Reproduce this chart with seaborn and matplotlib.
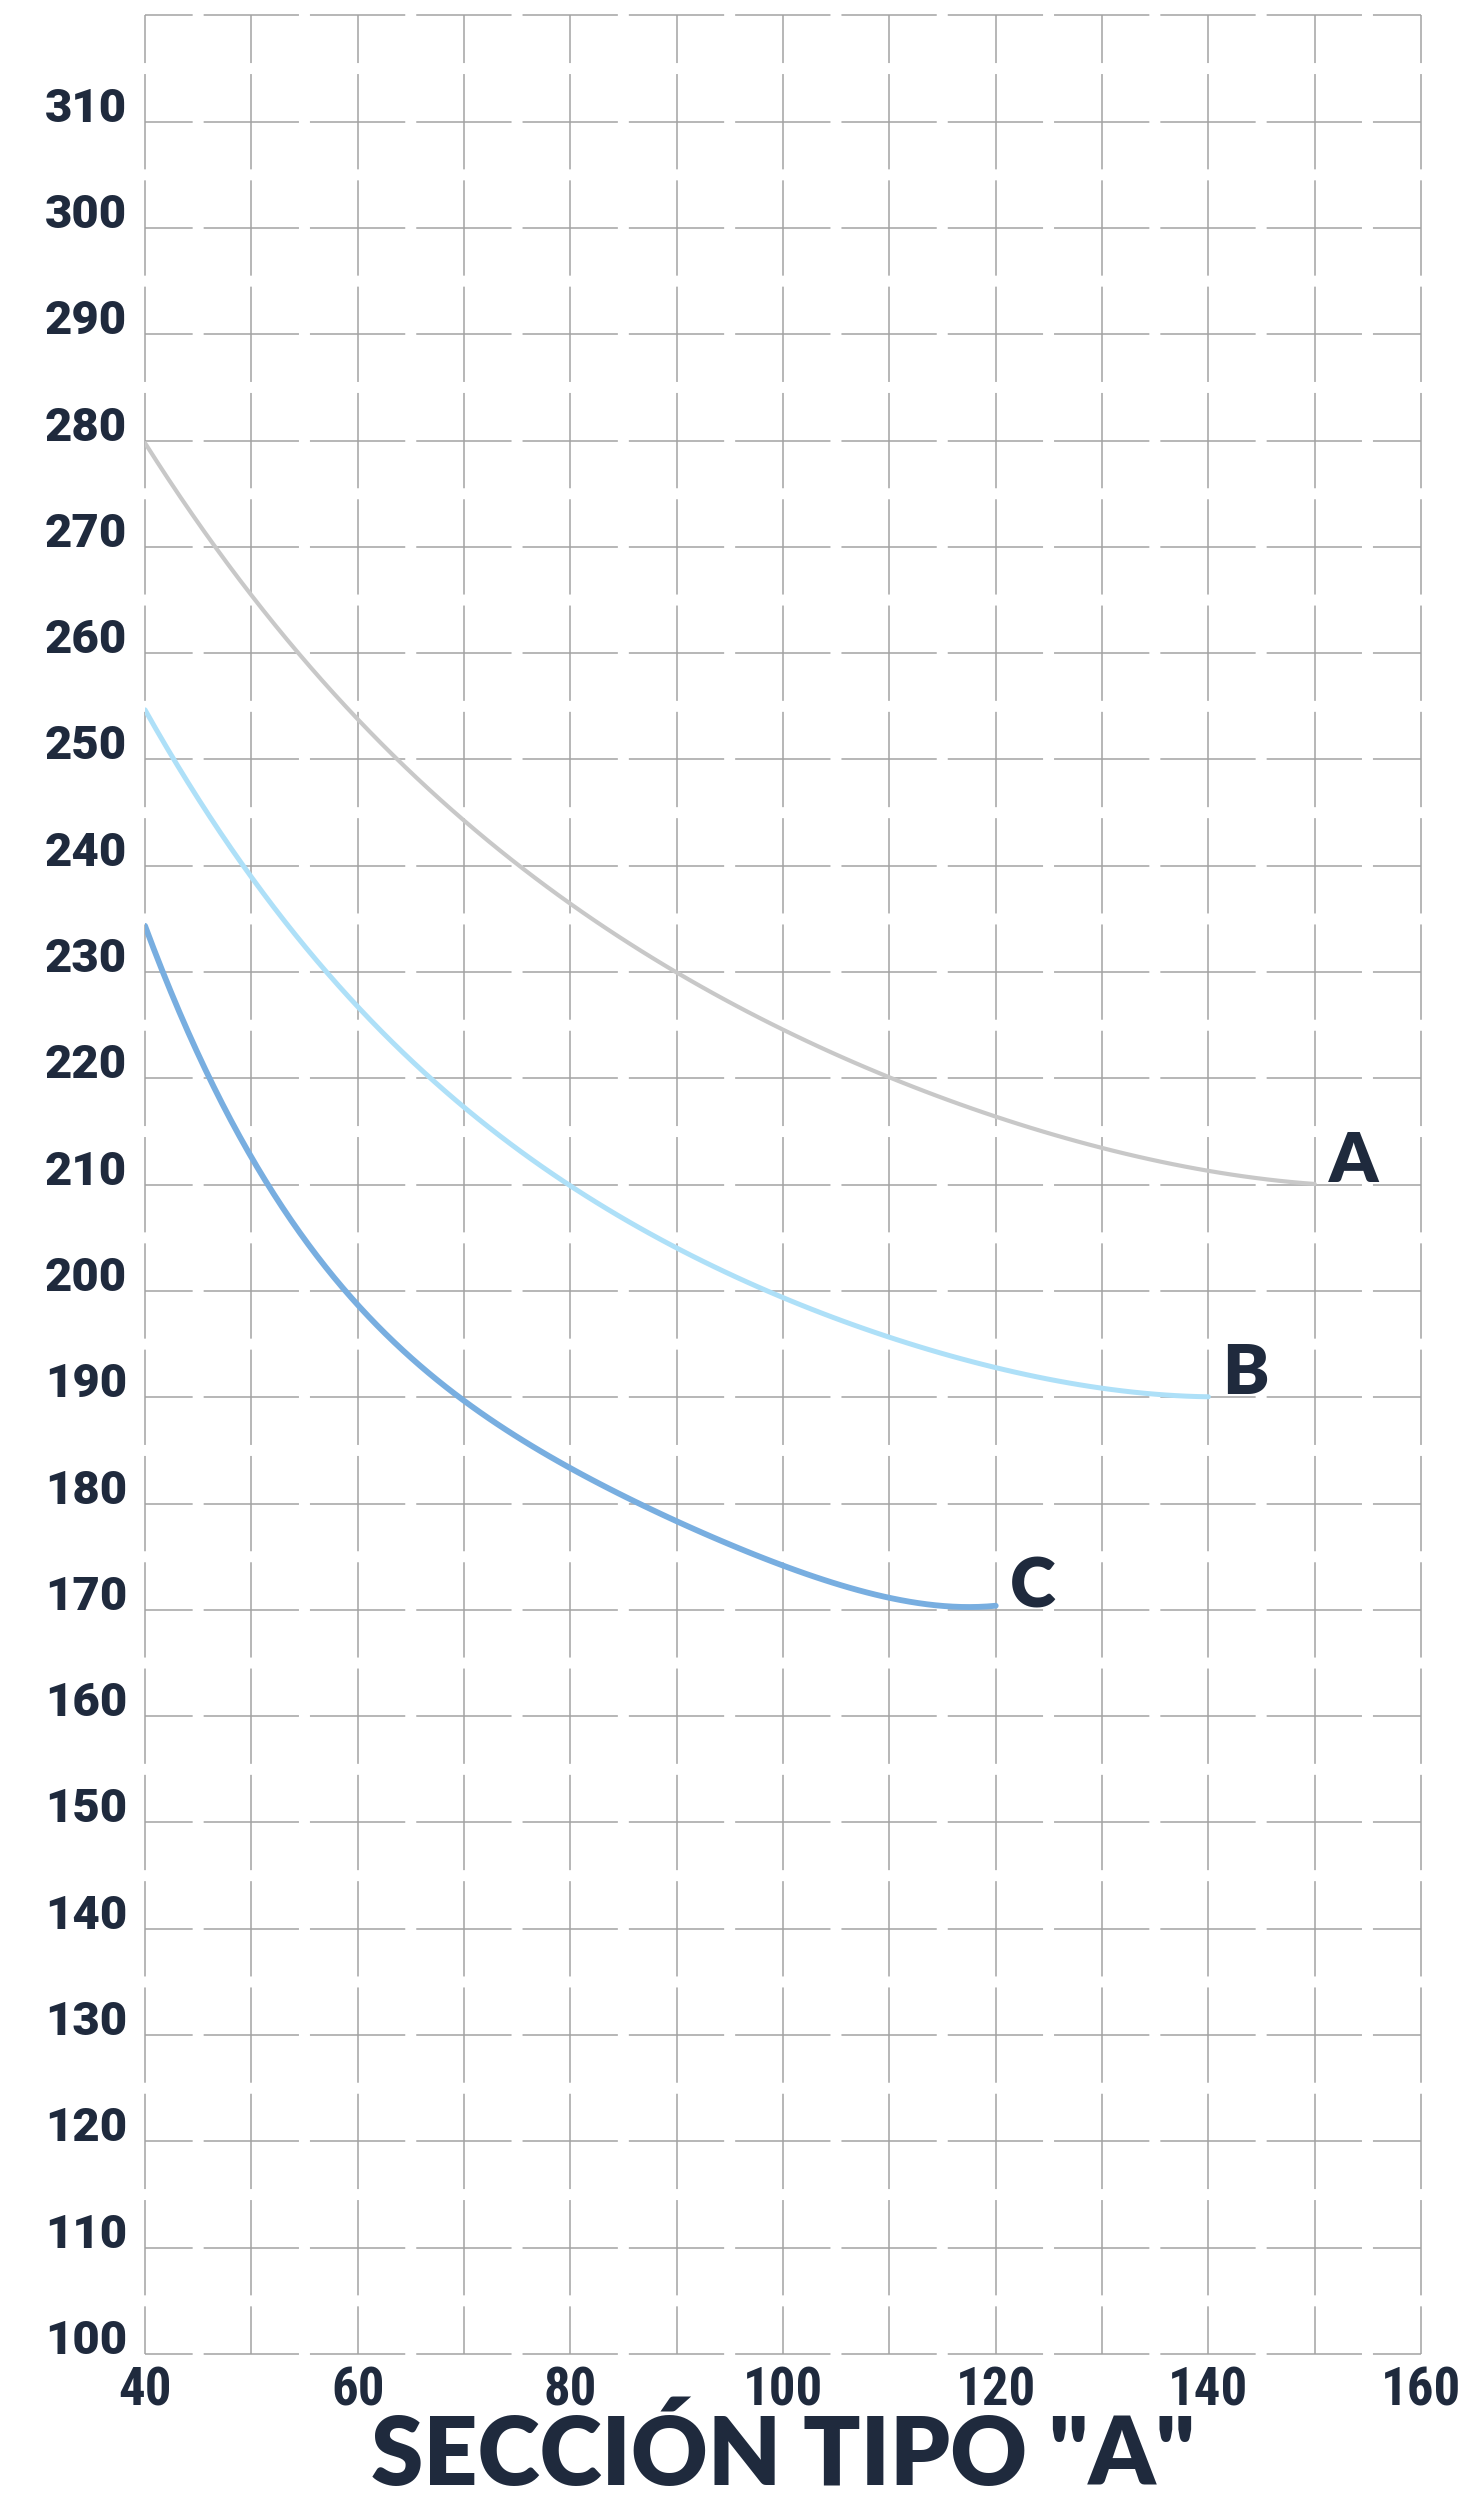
import pandas as pd
import matplotlib
matplotlib.use('Agg')
import matplotlib.pyplot as plt
import seaborn as sns

# curve values
x_a = [40, 46.4, 50, 54.2, 60, 64, 70, 75, 80, 90, 100, 110, 120, 130, 140, 150]
y_a = [280, 270, 265.4, 260, 254.0, 250, 244.3, 240, 236.5, 230, 224.5, 220, 216.4, 213.5, 211.4, 210]

x_b = [40, 42.5, 49.2, 57, 60, 66.8, 70, 80, 90, 100, 110, 120, 130, 140]
y_b = [255, 250, 240, 230, 226.8, 220, 217.6, 209.8, 204.1, 199.2, 195.6, 192.9, 190.9, 190]

x_c = [40, 41.7, 45.6, 50, 51.4, 59.6, 70, 80, 90, 100, 105, 110, 115, 120]
y_c = [235, 230, 220, 212.3, 210, 200, 190.2, 183.0, 177.8, 174.0, 172.6, 171.5, 170.7, 170]

curve_names = ['A', 'B', 'C']
x_ticks = list(range(40, 161, 20))
y_ticks = list(range(100, 321, 10))
title = 'SECCIÓN TIPO "A"'

df = pd.concat([
    pd.DataFrame({'x': x_a, 'y': y_a, 'curva': 'A'}),
    pd.DataFrame({'x': x_b, 'y': y_b, 'curva': 'B'}),
    pd.DataFrame({'x': x_c, 'y': y_c, 'curva': 'C'}),
])

sns.set_style('white')
plt.rcParams['lines.scale_dashes'] = False

navy = '#1f2a3d'
palette = {'A': '#c8c8c8', 'B': '#aee0f8', 'C': '#78aee0'}
widths = {'A': 3.0, 'B': 3.6, 'C': 4.2}

fig = plt.figure(figsize=(14.62, 24.96), dpi=100)
ax = fig.add_axes([0.0992, 0.0569, 0.9720 - 0.0992, 0.93694])

for name in curve_names:
    sub = df[df['curva'] == name]
    # smooth curve through the read points (polynomial fit by seaborn)
    sns.regplot(data=sub, x='x', y='y', order=4, ci=None, scatter=False,
                truncate=True, ax=ax,
                line_kws={'color': palette[name], 'linewidth': widths[name],
                          'solid_capstyle': 'round', 'zorder': 3})
    ax.annotate(name, (sub['x'].iloc[-1], sub['y'].iloc[-1]), xytext=(10, 2),
                textcoords='offset points', ha='left', va='baseline',
                fontsize=50, fontweight='heavy', family='Lato', color=navy)

ax.set_xlim(40, 160)
ax.set_ylim(100, 320)
ax.set_xticks(x_ticks)
ax.set_xticks(list(range(50, 160, 20)), minor=True)
ax.set_yticks(y_ticks)
ax.set_yticklabels([str(v) if v < 320 else '' for v in y_ticks])
ax.set_xlabel('')
ax.set_ylabel('')

# dashed grid with small gaps midway between lines (period = one cell)
cell_pt = 106.3 * 72 / 100
gap_pt = 11 * 72 / 100
dash = (cell_pt / 2 - gap_pt / 2, (cell_pt - gap_pt, gap_pt))
ax.grid(True, which='both', color='#a3a3a3', linewidth=1.1, linestyle=dash)
for gl in ax.get_xgridlines() + ax.get_ygridlines():
    gl.set_clip_on(False)
for s in ax.spines.values():
    s.set_visible(False)

ax.tick_params(axis='both', which='both', length=0)
ax.tick_params(axis='y', pad=13, labelcolor=navy)
ax.tick_params(axis='x', pad=8, labelcolor=navy)
for lbl in ax.get_yticklabels():
    lbl.set_fontfamily('Roboto')
    lbl.set_fontweight('heavy')
    lbl.set_fontsize(34)
    lbl.set_verticalalignment('baseline')
for lbl in ax.get_xticklabels():
    lbl.set_fontfamily(['Roboto Condensed', 'Noto Sans Condensed', 'Roboto'])
    lbl.set_fontweight('bold')
    lbl.set_fontsize(38)

fig.text(0.5356, 0.0045, title, ha='center', va='baseline', fontsize=68,
         fontweight='heavy', family='Lato', color=navy)

fig.savefig('out.png', dpi=100)
